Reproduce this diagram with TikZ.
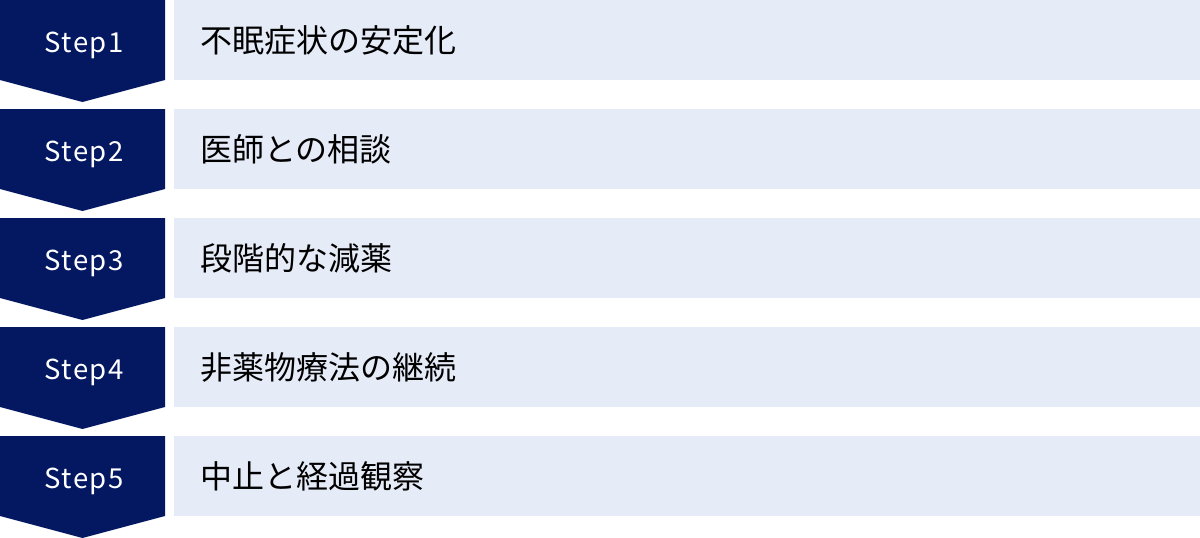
\documentclass[tikz,border=0pt]{standalone}
\usepackage{fontspec}
\setmainfont{Noto Sans CJK JP}
\newfontfamily\cjk{Noto Sans CJK JP}
\newfontfamily\steplat[LetterSpace=6]{Noto Sans CJK JP}
\definecolor{navy}{HTML}{041862}
\definecolor{pale}{HTML}{E6EBF8}
\tikzset{
  stepshape/.style={fill=navy, draw=none},
  boxshape/.style={fill=pale, draw=none},
  steplabel/.style={text=white, font=\steplat\fontsize{27.5}{27.5}\selectfont, anchor=base, inner sep=0pt},
  boxlabel/.style={text=black, font=\cjk\fontsize{32}{32}\selectfont, anchor=west, inner sep=0pt}
}
\begin{document}
\begin{tikzpicture}[x=1pt,y=-1pt]
\useasboundingbox (0,0) rectangle (1200,538);
\foreach \i/\t in {1/不眠症状の安定化,2/医師との相談,3/段階的な減薬,4/非薬物療法の継続,5/中止と経過観察}{
  \pgfmathsetmacro{\yt}{(\i-1)*109}
  \fill[stepshape] (0,\yt) -- (165,\yt) -- (165,\yt+80) -- (82.5,\yt+102) -- (0,\yt+80) -- cycle;
  \fill[boxshape] (174,\yt) rectangle (1200,\yt+80);
  \node[steplabel] (s\i) at (84,\yt+52) {Step\i};
  \node[boxlabel] (b\i) at (200,\yt+40) {\t};
}
\end{tikzpicture}
\end{document}
